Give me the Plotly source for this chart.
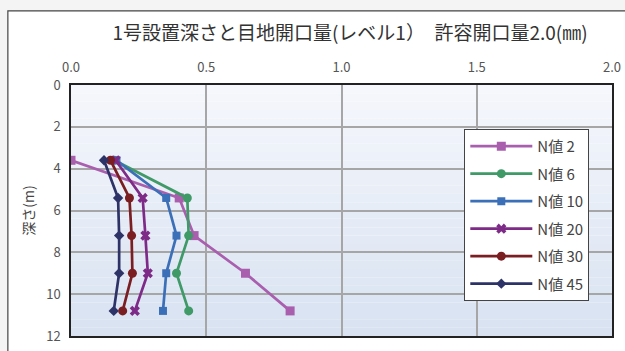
import plotly.graph_objects as go

depth = [3.6, 5.4, 7.2, 9.0, 10.8]
series_names = ["N値 2", "N値 6", "N値 10", "N値 20", "N値 30", "N値 45"]
n2 = [0.00, 0.40, 0.455, 0.645, 0.81]
n6 = [0.16, 0.43, 0.435, 0.39, 0.435]
n10 = [0.168, 0.352, 0.39, 0.352, 0.34]
n20 = [0.165, 0.265, 0.275, 0.284, 0.236]
n30 = [0.146, 0.216, 0.224, 0.227, 0.191]
n45 = [0.122, 0.174, 0.178, 0.178, 0.158]
values = [n2, n6, n10, n20, n30, n45]
colors = ["#a95fae", "#3f9a68", "#3b6fb8", "#7d2b87", "#7a1e22", "#2d3366"]
symbols = ["square", "circle", "square", "x", "circle", "diamond"]
sizes = [9, 9, 8, 9, 9, 8]
x_ticks = [0.0, 0.5, 1.0, 1.5, 2.0]
y_ticks = [0, 2, 4, 6, 8, 10, 12]

FONT = "Noto Sans CJK JP"

fig = go.Figure()
for i, (name, vals) in enumerate(zip(series_names, values)):
    fig.add_trace(go.Scatter(
        x=vals, y=depth, name=name, mode="lines+markers",
        legendgroup=name,
        line=dict(color=colors[i], width=2.7),
        marker=dict(symbol=symbols[i], size=sizes[i], color=colors[i]),
    ))

shapes = []
# outer white panel
shapes.append(dict(type="rect", xref="paper", yref="paper",
                   x0=-0.1167, x1=1.3, y0=-0.3, y1=1.295,
                   fillcolor="white", line=dict(color="#444", width=1.2),
                   layer="below"))
# gradient plot background
nb = 30
top = (245, 247, 252)
bot = (216, 226, 241)
for k in range(nb):
    t = (k + 0.5) / nb
    c = tuple(int(round(top[j] + (bot[j] - top[j]) * t)) for j in range(3))
    shapes.append(dict(type="rect", xref="x domain", yref="y domain",
                       x0=0, x1=1, y0=1 - (k + 1) / nb, y1=1 - k / nb,
                       fillcolor="rgb(%d,%d,%d)" % c, line=dict(width=0),
                       layer="below"))

fig.update_layout(
    width=625, height=351,
    margin=dict(l=71, r=13, t=85, b=15, autoexpand=False),
    paper_bgcolor="#f4f4f4",
    plot_bgcolor="white",
    shapes=shapes,
    title=dict(text="1号設置深さと目地開口量(レベル1）　許容開口量2.0(㎜)",
               x=350 / 625, xanchor="center", y=1 - 33 / 351, yanchor="middle",
               font=dict(family=FONT, size=19, color="#333")),
    font=dict(family=FONT, color="#444"),
    showlegend=True,
    legend=dict(x=0.727, y=0.825, xanchor="left", yanchor="top",
                bgcolor="white", bordercolor="#444", borderwidth=1,
                font=dict(family=FONT, size=15, color="#444"),
                tracegroupgap=5, itemwidth=62),
    xaxis=dict(side="top", range=[0, 2], tickvals=x_ticks,
               ticktext=["%.1f" % v for v in x_ticks],
               showgrid=True, gridcolor="#a6a6a6", gridwidth=1.5,
               showline=True, linecolor="#222", linewidth=1.5, mirror=True,
               ticks="", zeroline=False, ticklabelstandoff=6,
               tickfont=dict(family=FONT, size=13, color="#555")),
    yaxis=dict(range=[12, 0], tickvals=y_ticks,
               showgrid=True, gridcolor="#a6a6a6", gridwidth=1.5,
               showline=True, linecolor="#222", linewidth=1.5, mirror=True,
               ticks="", zeroline=False, ticklabelstandoff=6,
               title=dict(text="深さ(m)", standoff=8,
                          font=dict(family=FONT, size=14, color="#444")),
               tickfont=dict(family=FONT, size=13, color="#555")),
)

fig.write_html("out.html")
